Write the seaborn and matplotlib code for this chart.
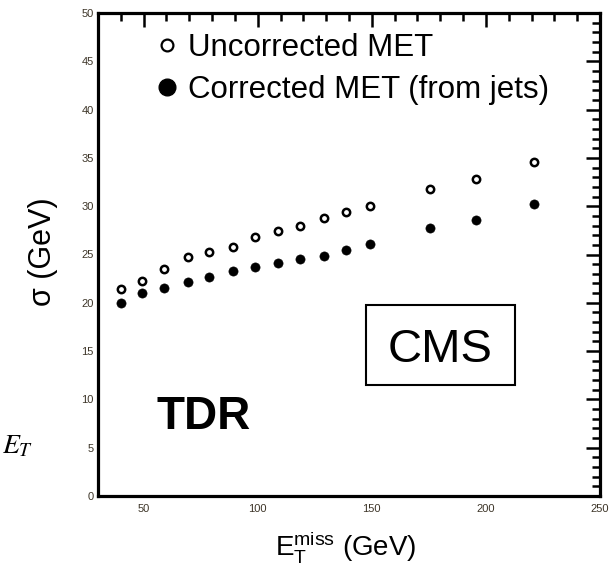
import numpy as np
import pandas as pd
import matplotlib
matplotlib.use("Agg")
import matplotlib.pyplot as plt
from matplotlib.lines import Line2D
from matplotlib.patches import Rectangle
from matplotlib.ticker import MultipleLocator
import seaborn as sns

# ---- data ----
met = [40, 49.5, 59, 69.5, 78.5, 89, 99, 109, 118.5, 129, 138.5, 149, 175.5, 195.5, 221]
sigma_uncorrected = [21.4, 22.3, 23.5, 24.7, 25.3, 25.8, 26.8, 27.4, 27.9, 28.8, 29.4, 30.0, 31.8, 32.8, 34.6]
sigma_corrected = [19.95, 21.0, 21.5, 22.2, 22.7, 23.3, 23.7, 24.1, 24.5, 24.8, 25.5, 26.05, 27.7, 28.6, 30.2]
series_labels = ["Uncorrected MET", "Corrected MET (from jets)"]
x_ticks = [50, 100, 150, 200, 250]
y_ticks = [0, 5, 10, 15, 20, 25, 30, 35, 40, 45, 50]

sns.set_style("white")
plt.rcParams["font.family"] = ["Liberation Sans", "DejaVu Sans"]
plt.rcParams["text.color"] = "black"
plt.rcParams["axes.labelcolor"] = "black"
plt.rcParams["mathtext.fontset"] = "custom"
plt.rcParams["mathtext.rm"] = "Liberation Sans"
plt.rcParams["mathtext.it"] = "Liberation Sans:italic"

df = pd.DataFrame({"met": met, "unc": sigma_uncorrected, "cor": sigma_corrected})

fig = plt.figure(figsize=(6.1, 5.73), dpi=100)
ax = fig.add_axes([98 / 610, 77 / 573, 502 / 610, 483 / 573])

sns.scatterplot(data=df, x="met", y="unc", ax=ax, marker="o", s=28,
                facecolor="white", edgecolor="black", linewidth=1.8, zorder=3)
sns.scatterplot(data=df, x="met", y="cor", ax=ax, marker="o", s=44,
                color="black", edgecolor="black", linewidth=0.4, zorder=3)

ax.set_xlim(30, 250)
ax.set_ylim(0, 50)
ax.set_xticks(x_ticks)
ax.set_yticks(y_ticks)
ax.xaxis.set_minor_locator(MultipleLocator(10))
ax.yaxis.set_minor_locator(MultipleLocator(1))
ax.tick_params(which="both", direction="in", top=True, right=True,
               color="black", width=1.8)
ax.tick_params(which="major", length=10)
ax.tick_params(which="minor", length=5.5)
ax.tick_params(axis="x", which="major", labelsize=8, labelcolor="#3d3528", pad=5.5)
ax.tick_params(axis="y", which="major", labelsize=8, labelcolor="#3d3528", pad=3)
ax.tick_params(labeltop=False, labelright=False)
for sp in ax.spines.values():
    sp.set_linewidth(2.3)
    sp.set_color("black")
    sp.set_visible(True)

ax.set_xlabel(r"$\mathregular{E_T^{miss}}$ (GeV)", fontsize=20, color="black")
ax.xaxis.set_label_coords(0.494, -0.068)
ax.xaxis.label.set_va("top")
ax.set_ylabel("σ (GeV)", fontsize=22, color="black")
ax.yaxis.set_label_coords(-0.08, 0.505)

handles = [
    Line2D([], [], linestyle="none", marker="o", markersize=8.5,
           markerfacecolor="white", markeredgecolor="black", markeredgewidth=1.6),
    Line2D([], [], linestyle="none", marker="o", markersize=12,
           markerfacecolor="black", markeredgecolor="black"),
]
leg = ax.legend(handles, series_labels, loc="upper left",
                bbox_to_anchor=(0.1225, 0.958), frameon=False, fontsize=22.5,
                handlelength=0.5, handletextpad=0.42, labelspacing=0.36,
                borderpad=0, borderaxespad=0)
for t in leg.get_texts():
    t.set_color("black")

ax.text(0.1175, 0.1387, "TDR", transform=ax.transAxes, fontsize=33,
        fontweight="bold", ha="left", va="baseline", color="black")
ax.text(0.5777, 0.2774, "CMS", transform=ax.transAxes, fontsize=34,
        ha="left", va="baseline", color="black")
ax.add_patch(Rectangle((0.5339, 0.2298), 0.2968, 0.1656, transform=ax.transAxes,
                       fill=False, edgecolor="black", linewidth=1.5))

fig.text(0.003, (573 - 453) / 573, r"$E_T$", fontsize=20, ha="left", va="baseline",
         math_fontfamily="stix", color="black")

fig.savefig("out.png", dpi=100)
